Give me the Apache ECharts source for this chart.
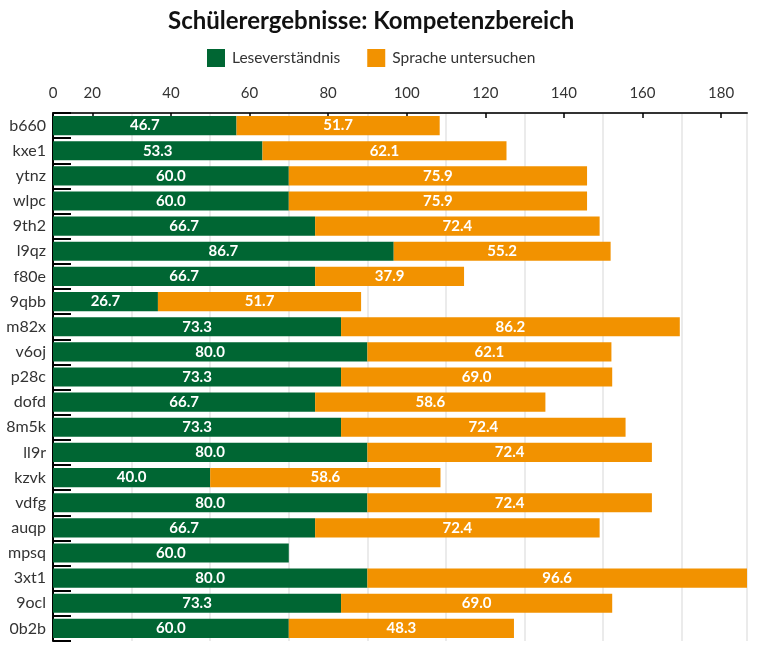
<!DOCTYPE html>
<html>
<head>
<meta charset="utf-8">
<script src="https://cdn.jsdelivr.net/npm/echarts@6/dist/echarts.min.js"></script>
<style>
html, body { margin: 0; padding: 0; background: #fff; }
#main { width: 760px; height: 648px; }
</style>
</head>
<body>
<div id="main"></div>
<script>
const students = ['b660', 'kxe1', 'ytnz', 'wlpc', '9th2', 'l9qz', 'f80e', '9qbb', 'm82x', 'v6oj', 'p28c',
  'dofd', '8m5k', 'll9r', 'kzvk', 'vdfg', 'auqp', 'mpsq', '3xt1', '9ocl', '0b2b'];
const lesen = [46.7, 53.3, 60.0, 60.0, 66.7, 86.7, 66.7, 26.7, 73.3, 80.0, 73.3,
  66.7, 73.3, 80.0, 40.0, 80.0, 66.7, 60.0, 80.0, 73.3, 60.0];
// bar lengths as drawn; the last bar is longer than its printed label
const sprache = [51.7, 62.1, 75.9, 75.9, 72.4, 55.2, 37.9, 51.7, 86.2, 62.1, 69.0,
  58.6, 72.4, 72.4, 58.6, 72.4, 72.4, null, 96.6, 69.0, 57.3];
const spracheText = ['51.7', '62.1', '75.9', '75.9', '72.4', '55.2', '37.9', '51.7', '86.2', '62.1', '69.0',
  '58.6', '72.4', '72.4', '58.6', '72.4', '72.4', '', '96.6', '69.0', '48.3'];
// top axis: labels sit at these positions (shifted, as in the original)
const tickPos = [0, 10, 30, 50, 70, 90, 110, 130, 150, 170];
const tickText = ['0', '20', '40', '60', '80', '100', '120', '140', '160', '180'];

const FONT = 'Lato';
const xMax = Math.max(...lesen.map((v, i) => v + (sprache[i] || 0)));

const chart = echarts.init(document.getElementById('main'));
chart.setOption({
  animation: false,
  title: {
    text: 'Schülerergebnisse: Kompetenzbereich',
    left: 168,
    top: 9,
    padding: 0,
    textStyle: { fontFamily: FONT, fontSize: 24, fontWeight: 'bold', color: '#111' }
  },
  legend: {
    top: 49,
    left: 207,
    padding: 0,
    itemWidth: 18,
    itemHeight: 18,
    itemGap: 27,
    icon: 'rect',
    textStyle: { fontFamily: FONT, fontSize: 15.5, color: '#333', padding: [0, 0, 0, 2] },
    data: ['Leseverständnis', 'Sprache untersuchen']
  },
  grid: { left: 53, right: 13, top: 113, bottom: 7 },
  xAxis: [
    {
      type: 'value',
      position: 'top',
      min: 0,
      max: xMax,
      interval: 20,
      axisLine: { show: false },
      axisTick: { show: false },
      axisLabel: { show: false },
      splitLine: { show: true, lineStyle: { color: '#ebebeb', width: 2 } }
    },
    {
      type: 'value',
      position: 'top',
      min: 0,
      max: xMax,
      axisLine: { show: true, lineStyle: { color: '#333', width: 2 } },
      axisTick: { show: true, inside: true, length: 5, customValues: tickPos, lineStyle: { color: '#000', width: 1.5 } },
      axisLabel: {
        customValues: tickPos,
        margin: 12,
        fontFamily: FONT,
        fontSize: 15,
        color: '#333',
        formatter: v => tickText[tickPos.indexOf(v)]
      },
      splitLine: { show: false }
    }
  ],
  yAxis: {
    type: 'category',
    inverse: true,
    data: students,
    axisLine: { show: true, lineStyle: { color: '#000', width: 2 } },
    axisTick: { show: true, inside: true, length: 18, lineStyle: { color: '#000', width: 2 } },
    axisLabel: { margin: 7, fontFamily: FONT, fontSize: 16, color: '#333' }
  },
  series: [
    {
      name: 'Leseverständnis',
      type: 'bar',
      stack: 'total',
      xAxisIndex: 0,
      barCategoryGap: '24%',
      itemStyle: { color: '#006633' },
      label: {
        show: true,
        position: 'inside',
        fontFamily: FONT,
        fontSize: 15,
        fontWeight: 'bold',
        color: '#fff',
        formatter: p => p.value.toFixed(1)
      },
      data: lesen
    },
    {
      name: 'Sprache untersuchen',
      type: 'bar',
      stack: 'total',
      xAxisIndex: 0,
      barCategoryGap: '24%',
      itemStyle: { color: '#f29200' },
      label: {
        show: true,
        position: 'inside',
        fontFamily: FONT,
        fontSize: 15,
        fontWeight: 'bold',
        color: '#fff',
        formatter: p => spracheText[p.dataIndex]
      },
      data: sprache
    }
  ]
});
</script>
</body>
</html>
